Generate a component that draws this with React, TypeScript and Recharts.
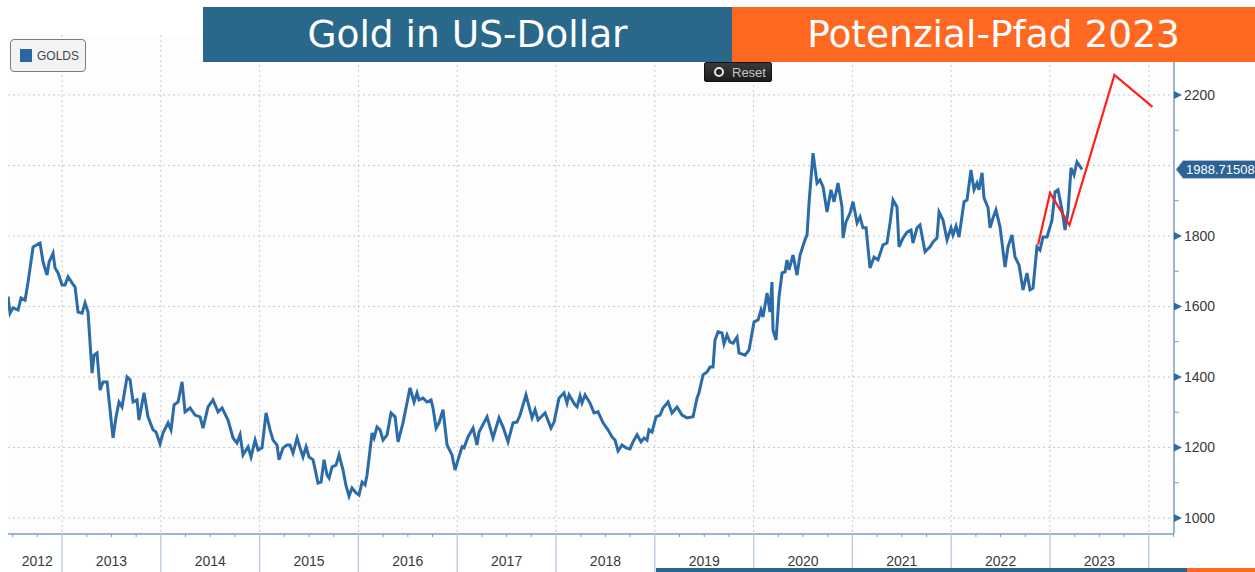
import React from 'react';
import { LineChart, Line, XAxis, YAxis, CartesianGrid, Legend } from 'recharts';

// weekly gold price (USD), dates as decimal years
const goldDates = [
  2012.454, 2012.474, 2012.504, 2012.555, 2012.585, 2012.626, 2012.656, 2012.707, 2012.777, 2012.808, 2012.848, 2012.869, 2012.909, 2012.929, 2012.96,
  2013.0, 2013.03, 2013.061, 2013.101, 2013.132, 2013.162, 2013.203, 2013.233, 2013.263, 2013.304, 2013.324, 2013.354, 2013.385, 2013.415, 2013.456,
  2013.516, 2013.547, 2013.577, 2013.607, 2013.658, 2013.688, 2013.719, 2013.759, 2013.779, 2013.83, 2013.87, 2013.921, 2013.951, 2013.992,
  2014.022, 2014.073, 2014.103, 2014.134, 2014.174, 2014.215, 2014.245, 2014.296, 2014.346, 2014.397, 2014.427, 2014.478, 2014.528, 2014.579,
  2014.62, 2014.68, 2014.731, 2014.771, 2014.802, 2014.832, 2014.883, 2014.913, 2014.954, 2014.984,
  2015.024, 2015.065, 2015.105, 2015.136, 2015.176, 2015.196, 2015.237, 2015.277, 2015.308, 2015.338, 2015.379, 2015.409, 2015.439, 2015.47, 2015.5,
  2015.541, 2015.591, 2015.622, 2015.652, 2015.682, 2015.703, 2015.733, 2015.773, 2015.804, 2015.844, 2015.875, 2015.905, 2015.935, 2015.976,
  2016.006, 2016.037, 2016.067, 2016.087, 2016.138, 2016.158, 2016.188, 2016.219, 2016.249, 2016.29, 2016.33, 2016.371, 2016.401, 2016.451,
  2016.522, 2016.563, 2016.593, 2016.613, 2016.654, 2016.694, 2016.735, 2016.755, 2016.786, 2016.816, 2016.856, 2016.897, 2016.947, 2016.978,
  2017.008, 2017.049, 2017.069, 2017.109, 2017.16, 2017.2, 2017.221, 2017.302, 2017.362, 2017.423, 2017.464, 2017.514, 2017.565, 2017.605,
  2017.636, 2017.696, 2017.757, 2017.788, 2017.818, 2017.889, 2017.949, 2017.98,
  2018.03, 2018.081, 2018.111, 2018.132, 2018.192, 2018.213, 2018.243, 2018.263, 2018.294, 2018.344, 2018.385, 2018.425, 2018.476, 2018.526,
  2018.567, 2018.597, 2018.628, 2018.668, 2018.709, 2018.749, 2018.779, 2018.82, 2018.86, 2018.891, 2018.921, 2018.941, 2018.972,
  2019.012, 2019.053, 2019.083, 2019.134, 2019.174, 2019.225, 2019.275, 2019.326, 2019.387, 2019.427, 2019.447, 2019.488, 2019.528, 2019.559,
  2019.589, 2019.609, 2019.64, 2019.68, 2019.7, 2019.731, 2019.761, 2019.792, 2019.832, 2019.852, 2019.913, 2019.954,
  2020.004, 2020.045, 2020.075, 2020.095, 2020.136, 2020.166, 2020.186, 2020.196, 2020.227, 2020.257, 2020.288, 2020.318, 2020.338, 2020.358,
  2020.399, 2020.439, 2020.47, 2020.52, 2020.541, 2020.561, 2020.601, 2020.642, 2020.672, 2020.703, 2020.743, 2020.783, 2020.814, 2020.854,
  2020.895, 2020.905, 2020.935, 2020.976,
  2021.006, 2021.047, 2021.077, 2021.107, 2021.138, 2021.178, 2021.219, 2021.259, 2021.31, 2021.35, 2021.381, 2021.411, 2021.451, 2021.472,
  2021.512, 2021.553, 2021.593, 2021.613, 2021.654, 2021.684, 2021.735, 2021.786, 2021.816, 2021.856, 2021.877, 2021.917, 2021.958, 2021.998,
  2022.018, 2022.049, 2022.079, 2022.13, 2022.16, 2022.2, 2022.231, 2022.261, 2022.281, 2022.312, 2022.332, 2022.373, 2022.393, 2022.423,
  2022.453, 2022.494, 2022.545, 2022.575, 2022.615, 2022.646, 2022.686, 2022.727, 2022.767, 2022.798, 2022.828, 2022.868, 2022.899, 2022.929, 2022.97,
  2023.02, 2023.051, 2023.081, 2023.121, 2023.152, 2023.182, 2023.213, 2023.243, 2023.273, 2023.324,
];

const goldPrices = [
  1628, 1581, 1596, 1590, 1624, 1618, 1669, 1769, 1780, 1726, 1689, 1726, 1751, 1709, 1695,
  1661, 1661, 1684, 1667, 1655, 1584, 1581, 1610, 1584, 1411, 1462, 1468, 1363, 1386, 1386,
  1227, 1287, 1329, 1315, 1400, 1392, 1329, 1335, 1278, 1355, 1287, 1250, 1244, 1210,
  1241, 1270, 1250, 1321, 1329, 1386, 1301, 1312, 1292, 1287, 1255, 1315, 1335, 1301,
  1312, 1278, 1227, 1213, 1236, 1179, 1202, 1173, 1221, 1193,
  1199, 1298, 1250, 1221, 1207, 1165, 1199, 1207, 1207, 1184, 1227, 1199, 1173, 1202, 1173,
  1165, 1099, 1102, 1165, 1122, 1113, 1145, 1150, 1179, 1136, 1091, 1062, 1085, 1071,
  1065, 1102, 1094, 1122, 1241, 1227, 1258, 1250, 1221, 1236, 1298, 1287, 1216, 1270,
  1369, 1329, 1355, 1335, 1340, 1329, 1335, 1312, 1255, 1270, 1307, 1207, 1179, 1136,
  1165, 1202, 1199, 1230, 1255, 1207, 1244, 1287, 1227, 1284, 1258, 1216, 1270, 1272,
  1292, 1349, 1284, 1307, 1278, 1298, 1255, 1272,
  1340, 1355, 1326, 1349, 1321, 1315, 1346, 1326, 1349, 1326, 1298, 1301, 1270, 1250,
  1230, 1221, 1190, 1207, 1199, 1196, 1216, 1236, 1216, 1227, 1221, 1250, 1244,
  1287, 1292, 1312, 1329, 1298, 1315, 1292, 1284, 1287, 1340, 1355, 1406, 1414, 1428,
  1428, 1505, 1528, 1525, 1494, 1519, 1499, 1496, 1513, 1468, 1462, 1477,
  1556, 1562, 1590, 1570, 1638, 1584, 1669, 1533, 1505, 1627, 1695, 1698, 1732, 1704,
  1746, 1689, 1746, 1789, 1803, 1894, 2035, 1950, 1959, 1939, 1868, 1931, 1897, 1950,
  1882, 1794, 1840, 1865,
  1897, 1837, 1854, 1823, 1823, 1709, 1740, 1732, 1775, 1780, 1837, 1902, 1882, 1769,
  1794, 1811, 1817, 1780, 1823, 1831, 1755, 1769, 1783, 1794, 1868, 1845, 1789, 1823,
  1803, 1828, 1797, 1897, 1902, 1987, 1931, 1950, 1931, 1979, 1908, 1880, 1823, 1851,
  1874, 1826, 1712, 1769, 1803, 1740, 1718, 1647, 1695, 1647, 1652, 1769, 1760, 1797, 1797,
  1845, 1925, 1931, 1874, 1817, 1868, 1993, 1973, 2010, 1988.71508,
];

// red "potential path"
const pathDates = [2022.879, 2023.0, 2023.197, 2023.652, 2024.037];
const pathPrices = [1775, 1922, 1831, 2257, 2166];

const yearLabels = ['2012', '2013', '2014', '2015', '2016', '2017', '2018', '2019', '2020', '2021', '2022', '2023'];
const yearBounds = [2013, 2014, 2015, 2016, 2017, 2018, 2019, 2020, 2021, 2022, 2023, 2024];
const gridPrices = [1000, 1200, 1400, 1600, 1800, 2000, 2200];
// 2000 sits under the last-value tag, so it has no label of its own
const labelledPrices = [1000, 1200, 1400, 1600, 1800, 2200];
const minorPriceTicks = [1100, 1300, 1500, 1700, 1900, 2100];
const lastPrice = goldPrices[goldPrices.length - 1];

const goldData = goldDates.map((t, i) => ({ t, price: goldPrices[i] }));
const pathData = pathDates.map((t, i) => ({ t, price: pathPrices[i] }));

const quarterTicks: number[] = [];
for (let q = 2012.5; q <= 2024.25; q += 0.25) quarterTicks.push(q);

const AXIS = '#7a9cc8';
const TEXT_FONT = 'Liberation Sans, Arial, sans-serif';

const yearLabelAt = (v: number) => {
  if (v === 2012.75) return yearLabels[0];
  const year = Math.floor(v);
  if (v - year === 0.5 && year > 2012) return yearLabels[year - 2012] || null;
  return null;
};

const XTick = (props: any) => {
  const { x, y, payload } = props;
  const v: number = payload.value;
  const label = yearLabelAt(v);
  return (
    <g>
      {Number.isInteger(v) ? (
        <line x1={x} y1={y} x2={x} y2={y + 38} stroke="#b3c7df" strokeWidth={1.3} />
      ) : (
        <line x1={x} y1={y} x2={x} y2={y + 3} stroke={AXIS} />
      )}
      {label && (
        <text x={x} y={y + 32} textAnchor="middle" fontSize={14} fill="#3a3a3a" fontFamily={TEXT_FONT}>
          {label}
        </text>
      )}
    </g>
  );
};

const YTick = (props: any) => {
  const { x, y, payload } = props;
  const v: number = payload.value;
  if (v === lastPrice) {
    return (
      <g>
        <polygon
          points={`${x + 2},${y} ${x + 9},${y - 9} ${x + 95},${y - 9} ${x + 95},${y + 9} ${x + 9},${y + 9}`}
          fill="#2a6394"
          stroke="#a9c1dc"
          strokeWidth={1}
        />
        <text x={x + 12} y={y + 5} fontSize={13} fill="#ffffff" fontFamily={TEXT_FONT}>
          {String(v)}
        </text>
      </g>
    );
  }
  if (labelledPrices.includes(v)) {
    return (
      <g>
        <polygon points={`${x},${y - 4} ${x + 8},${y} ${x},${y + 4}`} fill="#2d6aa6" />
        <text x={x + 10} y={y + 5} fontSize={14} fill="#3a3a3a" fontFamily={TEXT_FONT}>
          {v}
        </text>
      </g>
    );
  }
  return <line x1={x} y1={y} x2={x + 5} y2={y} stroke={AXIS} />;
};

const renderLegend = () => (
  <div
    style={{
      width: 76,
      height: 33,
      boxSizing: 'border-box',
      border: '1.5px solid #7a7a7a',
      borderRadius: 4,
      background: '#f3f3f6',
      display: 'flex',
      alignItems: 'center',
      paddingLeft: 9,
      fontFamily: TEXT_FONT,
      fontSize: 12,
      color: '#444',
    }}
  >
    <span style={{ width: 12, height: 13, background: '#2a66a4', marginRight: 5 }} />
    GOLDS
  </div>
);

const Banner = ({ left, width, color, text }: { left: number; width: number; color: string; text: string }) => (
  <div
    style={{
      position: 'absolute',
      left,
      top: 7,
      width,
      height: 55,
      background: color,
      color: '#fff',
      fontFamily: 'DejaVu Sans, sans-serif',
      fontSize: 37.5,
      lineHeight: '55px',
      textAlign: 'center',
      whiteSpace: 'nowrap',
    }}
  >
    {text}
  </div>
);

const App: React.FC = () => {
  return (
    <div style={{ position: 'absolute', left: 0, top: 0, width: 1255, height: 572, background: '#ffffff', overflow: 'hidden' }}>
      <LineChart width={1255} height={572} margin={{ top: 35, right: 0, bottom: 0, left: 8 }}>
        <CartesianGrid
          stroke="#c9c9c9"
          strokeDasharray="2 3"
          horizontalValues={gridPrices}
          verticalValues={yearBounds}
          fill="#fdfdfd"
        />
        <XAxis
          dataKey="t"
          type="number"
          domain={[2012.453, 2024.255]}
          allowDataOverflow
          ticks={quarterTicks}
          interval={0}
          tick={<XTick />}
          tickLine={false}
          tickSize={0}
          tickMargin={0}
          axisLine={{ stroke: AXIS, strokeWidth: 1.5 }}
          height={38}
        />
        <YAxis
          orientation="right"
          type="number"
          domain={[954.6, 2370]}
          allowDataOverflow
          ticks={[...labelledPrices, ...minorPriceTicks, lastPrice]}
          interval={0}
          tick={<YTick />}
          tickLine={false}
          tickSize={0}
          tickMargin={0}
          axisLine={{ stroke: AXIS, strokeWidth: 1.5 }}
          width={81}
        />
        <Legend
          layout="horizontal"
          verticalAlign="middle"
          align="center"
          wrapperStyle={{ left: 10, top: 39, width: 'auto', height: 'auto' }}
          content={renderLegend}
        />
        <Line
          data={goldData}
          dataKey="price"
          name="GOLDS"
          type="linear"
          stroke="#2b6ca8"
          strokeWidth={3}
          dot={false}
          isAnimationActive={false}
        />
        <Line
          data={pathData}
          dataKey="price"
          name="Pfad"
          type="linear"
          stroke="#ff1f1f"
          strokeWidth={2.2}
          dot={false}
          isAnimationActive={false}
        />
      </LineChart>

      <Banner left={203} width={529} color="#29688b" text="Gold in US-Dollar" />
      <Banner left={732} width={523} color="#fe6821" text="Potenzial-Pfad 2023" />

      <div
        style={{
          position: 'absolute',
          left: 704,
          top: 62,
          width: 68,
          height: 20,
          boxSizing: 'border-box',
          background: 'linear-gradient(#3a3a3a, #1c1c1c)',
          border: '1px solid #111',
          borderRadius: 2,
          display: 'flex',
          alignItems: 'center',
          paddingLeft: 9,
          fontFamily: TEXT_FONT,
          fontSize: 13,
          color: '#c4c4c4',
        }}
      >
        <span
          style={{
            width: 6,
            height: 6,
            borderRadius: '50%',
            border: '2.5px solid #e8e8e8',
            background: '#222',
            marginRight: 8,
          }}
        />
        Reset
      </div>

      <div style={{ position: 'absolute', left: 656, top: 568, width: 531, height: 4, background: '#29688b' }} />
      <div style={{ position: 'absolute', left: 1187, top: 568, width: 68, height: 4, background: '#fe6821' }} />
    </div>
  );
};

export default App;
